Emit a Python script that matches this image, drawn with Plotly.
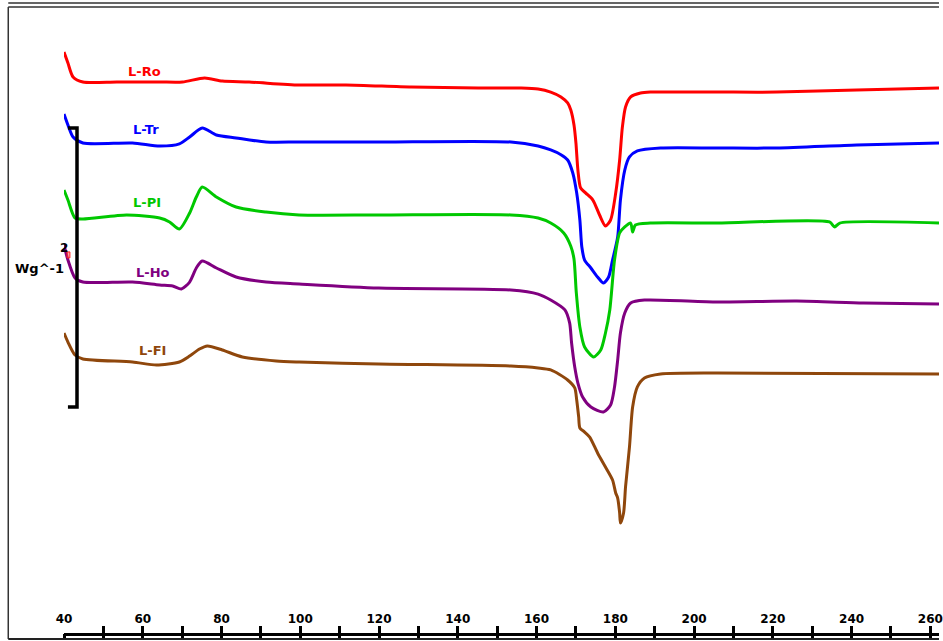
import plotly.graph_objects as go

# ---- data (temperature in °C, heat flow in W/g, curves stacked as in the thermogram) ----
ro_T = [40.0, 41.0, 42.3, 44.8, 53.4, 64.3, 70.1, 75.7, 80.2, 87.0, 99.7, 111.6, 128.2, 145.2, 156.1, 160.4,
        163.6, 166.2, 167.9, 168.7, 169.5, 170.0, 170.5, 171.2, 172.5, 174.3, 176.0, 177.5, 178.8, 180.1, 181.1, 181.8,
        182.6, 183.9, 186.4, 188.9, 205.9, 221.0, 241.3, 262.2]
ro_Q = [4.222, 4.143, 4.043, 4.007, 4.007, 4.007, 4.007, 4.036, 4.014, 4.007, 3.986, 3.986, 3.971, 3.964, 3.964, 3.957,
        3.935, 3.900, 3.857, 3.806, 3.700, 3.570, 3.376, 3.247, 3.211, 3.161, 3.054, 2.975, 3.018, 3.211, 3.448, 3.685,
        3.828, 3.900, 3.928, 3.935, 3.935, 3.935, 3.950, 3.964]

tr_T = [40.0, 41.0, 42.3, 44.8, 57.4, 64.3, 69.3, 71.9, 75.1, 78.7, 83.7, 91.3, 99.7, 119.9, 153.5, 160.4,
        163.6, 166.2, 167.9, 169.2, 170.2, 171.0, 171.5, 172.2, 173.8, 175.5, 177.0, 178.3, 179.3, 180.6, 181.3,
        182.4, 183.6, 185.6, 191.5, 205.9, 221.0, 241.3, 262.2]
tr_Q = [3.778, 3.699, 3.613, 3.570, 3.570, 3.548, 3.563, 3.613, 3.677, 3.627, 3.606, 3.577, 3.577, 3.577, 3.577, 3.548,
        3.520, 3.486, 3.448, 3.355, 3.211, 3.018, 2.824, 2.731, 2.674, 2.609, 2.566, 2.609, 2.731, 2.896, 3.161,
        3.376, 3.470, 3.513, 3.534, 3.534, 3.534, 3.556, 3.570]

pi_T = [40.0, 41.0, 42.8, 44.8, 55.9, 64.3, 66.8, 69.3, 71.9, 73.6, 75.1, 78.7, 83.7, 91.3, 99.7, 119.9, 153.5,
        160.4, 163.6, 166.9, 168.7, 169.5, 170.1, 171.0, 172.2, 174.5, 176.3, 177.5, 178.6, 179.8, 181.1, 182.4,
        183.9, 184.4, 185.1, 188.9, 205.9, 234.4, 235.7, 237.0, 262.2]
pi_Q = [3.233, 3.161, 3.032, 3.025, 3.054, 3.032, 3.004, 2.953, 3.068, 3.183, 3.254, 3.183, 3.111, 3.075, 3.054, 3.054, 3.054,
        3.032, 2.996, 2.925, 2.830, 2.740, 2.495, 2.251, 2.108, 2.036, 2.086, 2.208, 2.373, 2.731, 2.925, 2.968,
        2.996, 2.932, 2.982, 2.996, 2.996, 3.004, 2.968, 2.996, 2.996]

ho_T = [40.0, 41.0, 42.8, 44.8, 57.4, 64.3, 67.6, 69.8, 71.9, 73.6, 75.1, 78.7, 83.7, 91.3, 99.7, 119.9, 153.5,
        160.4, 163.6, 167.2, 168.4, 168.9, 169.7, 170.5, 171.7, 173.8, 177.0, 178.8, 179.8, 180.6, 181.3,
        182.4, 183.9, 187.4, 205.9, 226.1, 243.0, 262.2]
ho_Q = [2.839, 2.731, 2.602, 2.573, 2.573, 2.552, 2.545, 2.523, 2.573, 2.674, 2.724, 2.674, 2.609, 2.573, 2.559, 2.530, 2.516,
        2.487, 2.444, 2.373, 2.280, 2.136, 1.964, 1.849, 1.749, 1.677, 1.642, 1.692, 1.821, 2.014, 2.208,
        2.351, 2.423, 2.444, 2.430, 2.437, 2.423, 2.416]

fi_T = [40.0, 41.0, 42.8, 44.8, 57.4, 63.5, 69.3, 71.9, 74.4, 76.4, 80.2, 85.3, 93.9, 99.7, 119.9, 153.5, 160.4,
        163.6, 167.9, 169.7, 170.2, 170.7, 171.0, 172.2, 173.5, 175.5, 177.5, 179.3, 180.1, 180.6, 181.1,
        181.3, 182.1, 182.6, 183.6, 184.4, 185.6, 187.4, 191.5, 205.9, 262.2]
fi_Q = [2.208, 2.143, 2.050, 2.022, 2.000, 1.978, 2.000, 2.043, 2.093, 2.115, 2.086, 2.036, 2.007, 2.000, 1.986, 1.971, 1.957,
        1.943, 1.871, 1.814, 1.728, 1.606, 1.527, 1.498, 1.462, 1.348, 1.247, 1.154, 1.061, 1.025, 0.918,
        0.846, 0.918, 1.104, 1.391, 1.677, 1.821, 1.885, 1.914, 1.921, 1.914]

series_names = ["L-Ro", "L-Tr", "L-PI", "L-Ho", "L-FI"]
series_T = [ro_T, tr_T, pi_T, ho_T, fi_T]
series_Q = [ro_Q, tr_Q, pi_Q, ho_Q, fi_Q]
series_colors = ["#ff0000", "#0000ff", "#00c800", "#800080", "#8f470c"]
label_T = [60.4, 60.9, 61.1, 62.6, 62.4]
label_Q = [4.079, 3.670, 3.140, 2.645, 2.086]

scale_T = [41.0, 43.3]          # scale bar position (°C)
scale_bottom = 1.677            # W/g
scale_size = 2                  # W/g  (label "2")

x_ticks_major = 20
x_ticks_minor = 10

fig = go.Figure()
for name, T, Q, c in zip(series_names, series_T, series_Q, series_colors):
    fig.add_trace(go.Scatter(x=T, y=Q, mode="lines", name=name,
                             line=dict(color=c, width=3, shape="spline", smoothing=0.7),
                             showlegend=False, hoverinfo="skip"))

# scale bar (2 W/g)
sb_top = scale_bottom + scale_size
fig.add_trace(go.Scatter(x=[scale_T[0], scale_T[1], scale_T[1], scale_T[0]],
                         y=[sb_top, sb_top, scale_bottom, scale_bottom],
                         mode="lines", line=dict(color="black", width=3.5),
                         xaxis="x2", showlegend=False, hoverinfo="skip"))

for name, lt, lq, c in zip(series_names, label_T, label_Q, series_colors):
    fig.add_annotation(x=lt, y=lq, text="<b>%s</b>" % name, showarrow=False,
                       font=dict(family="DejaVu Sans", size=13, color=c),
                       xanchor="center", yanchor="middle")

fig.add_annotation(xref="paper", x=-0.0284, y=2.667, text="<b>Wg^-1</b>", showarrow=False,
                   font=dict(family="DejaVu Sans", size=13, color="black"),
                   xanchor="center", yanchor="middle")
fig.add_annotation(xref="paper", x=0.0, y=2.817, text="<b>%d</b>" % scale_size, showarrow=False,
                   font=dict(family="DejaVu Sans", size=12, color="black"),
                   xanchor="center", yanchor="middle")
# small red marker next to the scale label
fig.add_shape(type="rect", x0=40.76, x1=41.5, y0=2.746, y1=2.789,
              line=dict(color="#ff2020", width=1), fillcolor="rgba(255,80,80,0.5)")

# frame lines
frame = dict(color="#333333", width=1.5)
fig.add_shape(type="line", xref="paper", yref="paper", x0=-0.0637, x1=1.0, y0=0.99526, y1=0.99526, line=frame)
fig.add_shape(type="line", xref="paper", yref="paper", x0=-0.0637, x1=1.0, y0=0.98894, y1=0.98894, line=frame)
fig.add_shape(type="line", xref="paper", yref="paper", x0=-0.0637, x1=-0.0637, y0=0.98894, y1=-0.0095, line=frame)
fig.add_shape(type="line", xref="paper", yref="paper", x0=-0.0637, x1=1.0, y0=-0.0095, y1=-0.0095,
              line=dict(color="#222222", width=2))

xr = [40, 262.2]
fig.update_layout(
    width=943, height=641,
    margin=dict(l=64, r=0, t=0, b=8, pad=0),
    paper_bgcolor="white", plot_bgcolor="white",
    showlegend=False,
    xaxis=dict(range=xr, showgrid=False, zeroline=False,
               showline=True, linecolor="black", linewidth=3,
               ticks="inside", ticklen=7, tickwidth=3, tickcolor="black",
               tick0=40, dtick=x_ticks_major,
               ticklabelposition="inside", ticklabeloverflow="allow",
               tickfont=dict(family="DejaVu Sans", size=12, color="black", weight="bold"),
               minor=dict(ticks="inside", tick0=40, dtick=x_ticks_minor, ticklen=7,
                          tickwidth=3, tickcolor="black", showgrid=False)),
    xaxis2=dict(range=xr, overlaying="x", anchor="y", side="bottom",
                showgrid=False, zeroline=False, showline=False,
                ticks="outside", ticklen=5, tickwidth=3, tickcolor="black",
                tick0=40, dtick=x_ticks_minor, showticklabels=False),
    yaxis=dict(range=[0.0573, 4.595], visible=False, fixedrange=True),
)

# the page is exactly the size of the figure: drop the browser's default body margin
fig.write_html("out.html", config={"displayModeBar": False},
               post_script="document.body.style.margin='0';document.body.style.overflow='hidden';")
